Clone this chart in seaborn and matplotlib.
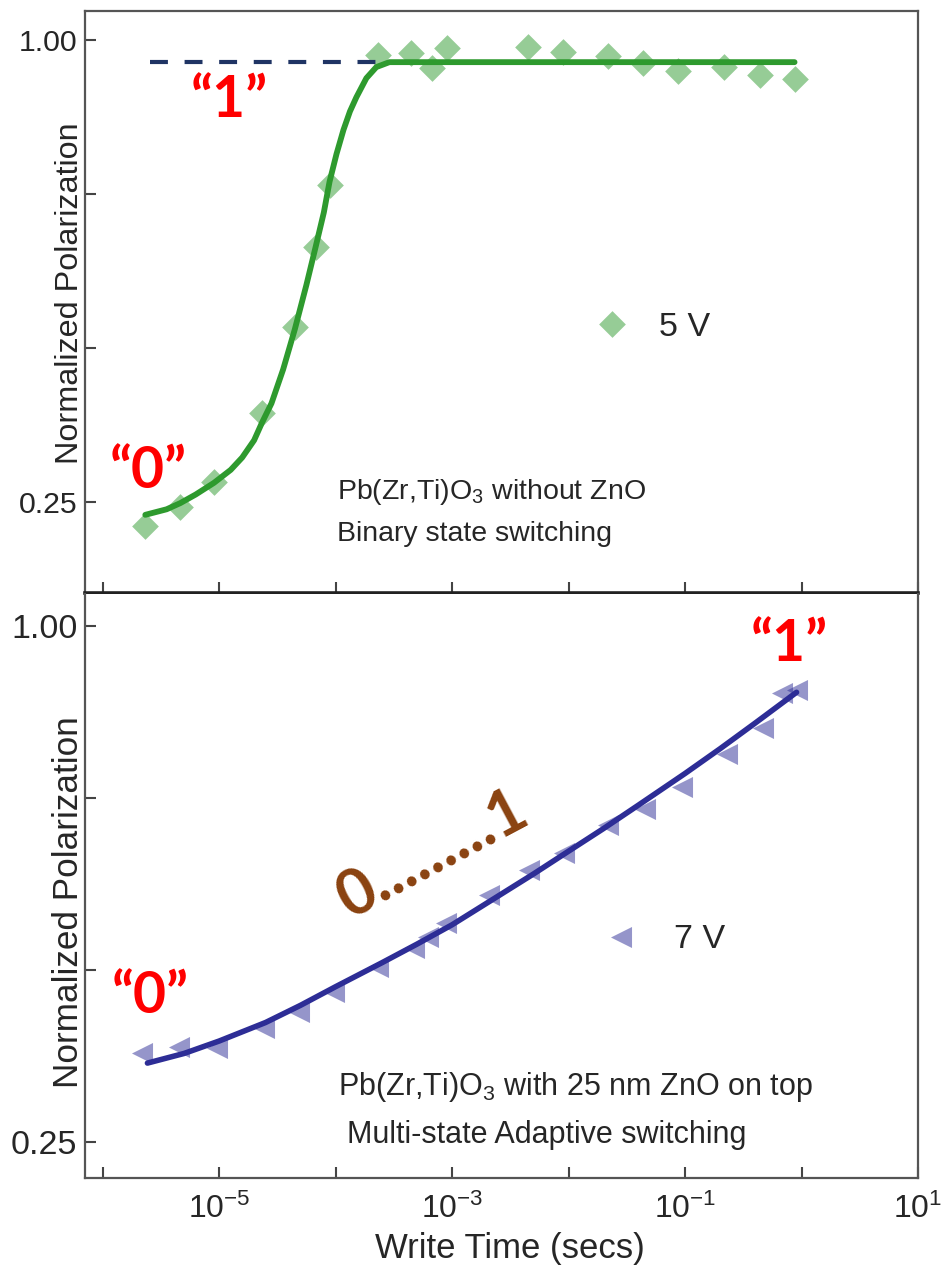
import matplotlib
matplotlib.use("Agg")
import matplotlib.pyplot as plt
import seaborn as sns
import pandas as pd

# ---------------- data ----------------
# top panel: Pb(Zr,Ti)O3 without ZnO, 5 V
t5_time = [2.33e-6, 4.65e-6, 9.06e-6, 2.33e-5, 4.47e-5, 6.75e-5, 8.89e-5,
           2.33e-4, 4.47e-4, 6.75e-4, 9.06e-4, 4.47e-3, 8.89e-3, 2.20e-2,
           4.38e-2, 8.71e-2, 0.215, 0.438, 0.871]
p5_pol = [0.211, 0.242, 0.282, 0.394, 0.534, 0.664, 0.765,
          0.976, 0.979, 0.955, 0.987, 0.989, 0.981, 0.974,
          0.963, 0.950, 0.956, 0.943, 0.937]
fit5_time = [2.33e-6, 3.55e-6, 4.65e-6, 6.31e-6, 9.06e-6, 1.26e-5, 1.58e-5,
             2.0e-5, 2.33e-5, 2.82e-5, 3.55e-5, 4.47e-5, 5.62e-5, 6.75e-5,
             7.94e-5, 8.89e-5, 1.02e-4, 1.17e-4, 1.33e-4, 1.51e-4, 1.84e-4,
             2.24e-4, 2.90e-4, 0.871]
fit5_pol = [0.229, 0.238, 0.248, 0.262, 0.281, 0.302, 0.322,
            0.350, 0.378, 0.410, 0.465, 0.530, 0.602, 0.664,
            0.720, 0.770, 0.815, 0.854, 0.884, 0.907, 0.938,
            0.956, 0.964, 0.964]
level1_time = [2.57e-6, 3.0e-4]
level1_pol = [0.964, 0.964]

# bottom panel: Pb(Zr,Ti)O3 with 25 nm ZnO, 7 V
t7_time = [2.20e-6, 4.55e-6, 9.6e-6, 2.43e-5, 4.83e-5, 9.8e-5, 2.33e-4,
           4.73e-4, 6.24e-4, 8.89e-4, 2.07e-3, 4.55e-3, 9.06e-3, 2.20e-2,
           4.55e-2, 9.42e-2, 0.229, 0.465, 0.675, 0.906]
p7_pol = [0.379, 0.388, 0.387, 0.416, 0.439, 0.468, 0.504,
          0.533, 0.548, 0.568, 0.609, 0.645, 0.670, 0.711,
          0.735, 0.766, 0.815, 0.852, 0.903, 0.907]
fit7_time = [2.43e-6, 5.01e-6, 1.0e-5, 2.51e-5, 5.01e-5, 1.0e-4, 2.51e-4,
             5.01e-4, 1.0e-3, 2.24e-3, 5.01e-3, 1.0e-2, 2.0e-2, 3.98e-2,
             0.1, 0.2, 0.398, 0.906]
fit7_pol = [0.365, 0.379, 0.397, 0.424, 0.449, 0.476, 0.511,
            0.538, 0.566, 0.603, 0.640, 0.673, 0.706, 0.740,
            0.786, 0.822, 0.859, 0.904]

x_ticks = [1e-6, 1e-5, 1e-4, 1e-3, 1e-2, 1e-1, 1e0, 1e1]
x_ticklabels = ['', r'$\mathregular{10^{-5}}$', '', r'$\mathregular{10^{-3}}$', '',
                r'$\mathregular{10^{-1}}$', '', r'$\mathregular{10^{1}}$']
y_ticks = [0.25, 0.50, 0.75, 1.00]
y_ticklabels = ['0.25', '', '', '1.00']

# ---------------- style ----------------
sns.set_style("ticks")
plt.rcParams['font.family'] = ['Liberation Sans', 'DejaVu Sans']
plt.rcParams['mathtext.fontset'] = 'custom'
plt.rcParams['mathtext.rm'] = 'Liberation Sans'
plt.rcParams['mathtext.it'] = 'Liberation Sans:italic'
plt.rcParams['mathtext.bf'] = 'Liberation Sans:bold'
plt.rcParams['axes.unicode_minus'] = False

GREEN = '#2e9a2e'
BLUE = '#2d2d96'
NAVY = '#1f3464'
RED = '#ff0000'
BROWN = '#8a4210'
TXT = '#262626'
SPINE = '#555555'

fig = plt.figure(figsize=(9.48, 12.68), dpi=100)
ax1 = fig.add_axes([0.0897, 0.5323, 0.8787, 0.4590])
ax2 = fig.add_axes([0.0897, 0.0710, 0.8787, 0.4606])

for ax in (ax1, ax2):
    ax.set_xscale('log')
    ax.set_xlim(10 ** -6.15, 10 ** 1)

# ---------------- top panel ----------------
df5 = pd.DataFrame({'t': t5_time, 'p': p5_pol})
dfit5 = pd.DataFrame({'t': fit5_time, 'p': fit5_pol})
dl1 = pd.DataFrame({'t': level1_time, 'p': level1_pol})
sns.lineplot(data=dfit5, x='t', y='p', ax=ax1, color=GREEN, linewidth=4.2,
             sort=False, estimator=None, zorder=2, legend=False)
sns.scatterplot(data=df5, x='t', y='p', ax=ax1, marker='D', s=185, color=GREEN,
                alpha=0.5, linewidth=0, zorder=3, label='5 V')
ax1.plot(dl1['t'], dl1['p'], color=NAVY, linewidth=3.0, dashes=(4.3, 4.0), zorder=4)
ax1.set_ylim(0.102, 1.047)

ax1.legend(frameon=False, loc='center left', bbox_to_anchor=(0.612, 0.457),
           handlelength=1.0, handletextpad=0.9, borderpad=0, borderaxespad=0,
           fontsize=24.5, scatteryoffsets=[0.5], labelcolor=TXT)

ax1.text(0.173, 0.847, '\u201c1\u201d', transform=ax1.transAxes, ha='center', va='center',
         color=RED, fontsize=41, fontweight='bold', family=['Lato', 'DejaVu Sans'])
ax1.text(0.0756, 0.2096, '\u201c0\u201d', transform=ax1.transAxes, ha='center', va='center',
         color=RED, fontsize=41, fontweight='bold', family=['Lato', 'DejaVu Sans'])
ax1.text(0.3025, 0.1615, r'Pb(Zr,Ti)O$_{\mathregular{3}}$ without ZnO', transform=ax1.transAxes,
         ha='left', va='baseline', fontsize=20.5, color=TXT)
ax1.text(0.3025, 0.0893, 'Binary state switching', transform=ax1.transAxes,
         ha='left', va='baseline', fontsize=20.5, color=TXT)

# ---------------- bottom panel ----------------
df7 = pd.DataFrame({'t': t7_time, 'p': p7_pol})
dfit7 = pd.DataFrame({'t': fit7_time, 'p': fit7_pol})
sns.lineplot(data=dfit7, x='t', y='p', ax=ax2, color=BLUE, linewidth=4.0,
             sort=False, estimator=None, zorder=2, legend=False)
sns.scatterplot(data=df7, x='t', y='p', ax=ax2, marker='<', s=230, color=BLUE,
                alpha=0.5, linewidth=0, zorder=3, label='7 V')
ax2.set_ylim(0.198, 1.047)

ax2.legend(frameon=False, loc='center left', bbox_to_anchor=(0.6226, 0.4075),
           handlelength=1.0, handletextpad=1.08, borderpad=0, borderaxespad=0,
           fontsize=24.5, scatteryoffsets=[0.5], labelcolor=TXT)

ax2.text(0.078, 0.310, '\u201c0\u201d', transform=ax2.transAxes, ha='center', va='center',
         color=RED, fontsize=41, fontweight='bold', family=['Lato', 'DejaVu Sans'])
ax2.text(0.846, 0.9127, '\u201c1\u201d', transform=ax2.transAxes, ha='center', va='center',
         color=RED, fontsize=41, fontweight='bold', family=['Lato', 'DejaVu Sans'])
ax2.text(0.418, 0.553, '0.........1', transform=ax2.transAxes, ha='center', va='center',
         rotation=28, rotation_mode='anchor', color=BROWN, fontsize=45,
         fontweight='bold', family=['Lato', 'DejaVu Sans'])
ax2.text(0.3037, 0.142, r'Pb(Zr,Ti)O$_{\mathregular{3}}$ with 25 nm ZnO on top', transform=ax2.transAxes,
         ha='left', va='baseline', fontsize=22, color=TXT)
ax2.text(0.3145, 0.060, 'Multi-state Adaptive switching', transform=ax2.transAxes,
         ha='left', va='baseline', fontsize=22, color=TXT)

# ---------------- axes styling ----------------
for ax, ytick_fs, ylab_fs, ylab_y in ((ax1, 21.8, 23.3, 0.516), (ax2, 24.5, 25.3, 0.4726)):
    ax.set_xticks(x_ticks)
    ax.minorticks_off()
    ax.set_yticks(y_ticks)
    ax.set_yticklabels(y_ticklabels)
    ax.tick_params(axis='both', direction='in', length=8, width=1.5, color='#444444')
    ax.tick_params(axis='y', labelsize=ytick_fs, pad=5.5, labelcolor=TXT)
    ax.set_ylabel('Normalized Polarization', fontsize=ylab_fs, color=TXT)
    ax.yaxis.set_label_coords(0.0, ylab_y)
    for sp in ax.spines.values():
        sp.set_visible(True)
        sp.set_color(SPINE)
        sp.set_linewidth(1.6)

ax1.set_xticklabels([''] * len(x_ticks))
ax1.set_xlabel('')
ax1.spines['bottom'].set_color('#222222')
ax1.spines['bottom'].set_linewidth(2.6)
ax2.spines['top'].set_visible(False)

ax2.set_xticklabels(x_ticklabels)
ax2.tick_params(axis='x', labelsize=23, pad=11, labelcolor=TXT)
ax2.set_xlabel('Write Time (secs)', fontsize=25, color=TXT)
ax2.xaxis.set_label_coords(0.51, -0.093)

fig.savefig('out.png', dpi=100, facecolor='white')
